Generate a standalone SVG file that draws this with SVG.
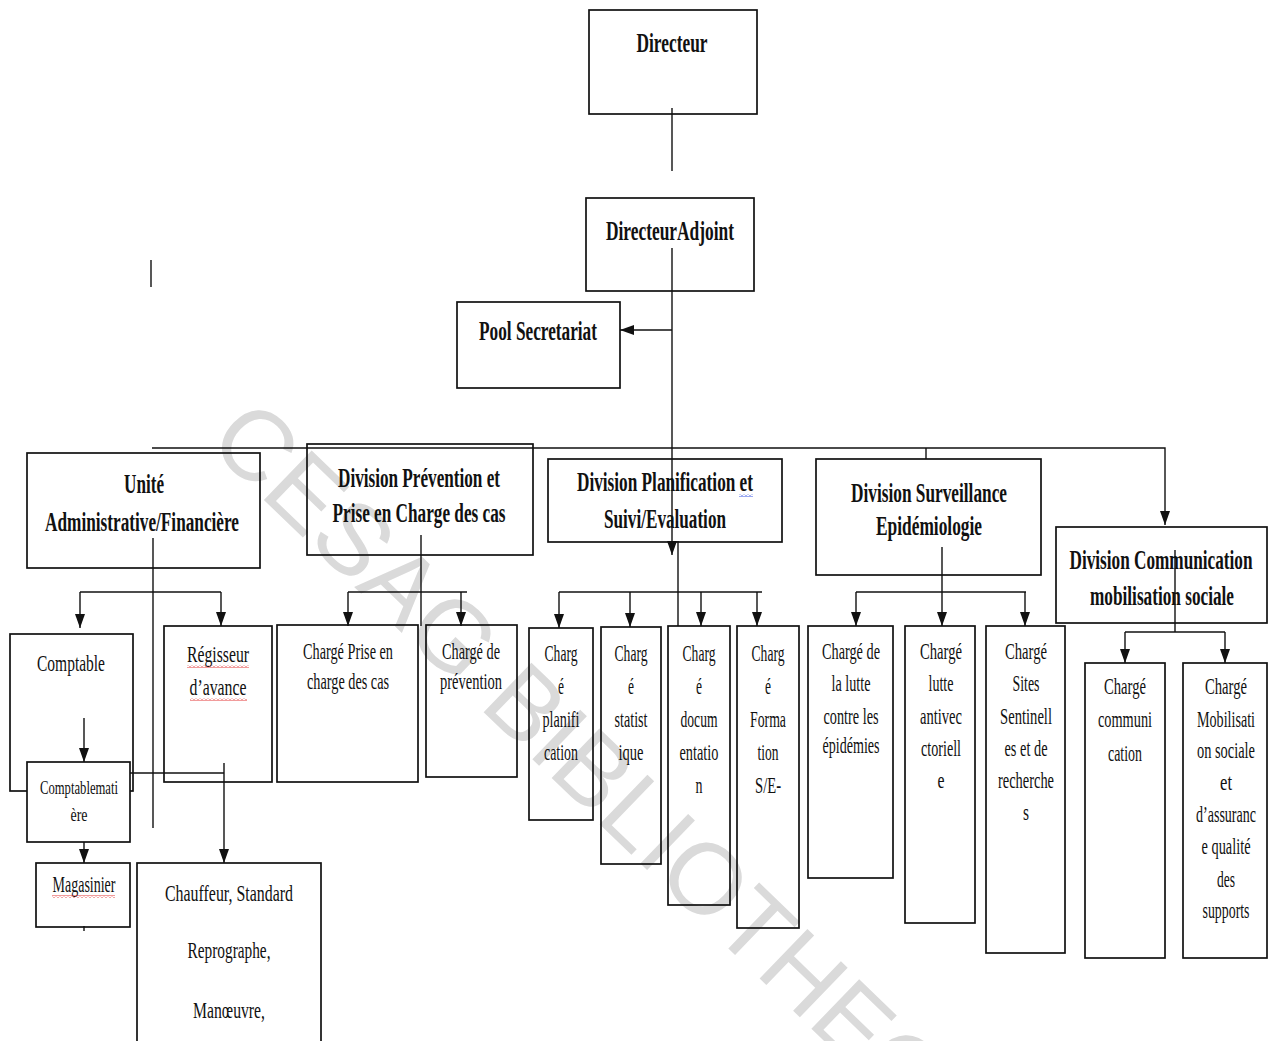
<svg xmlns="http://www.w3.org/2000/svg" width="1271" height="1041" viewBox="0 0 1271 1041">
  <style>
    .box { fill: none; stroke: #111; stroke-width: 1.7; }
    .c { fill: none; stroke: #111; stroke-width: 1.4; }
    .t { font-family: "Liberation Serif", "Times New Roman", serif; font-size: 24px; text-anchor: middle; fill: #111; }
    .b { font-weight: bold; font-size: 27px; }
    .s { font-size: 19px; }
    .wm { font-family: "Liberation Sans", Arial, sans-serif; font-size: 100px; fill: #dadada; }
  </style>
  <defs>
    <marker id="arr" markerWidth="14" markerHeight="10" refX="14" refY="5" orient="auto" markerUnits="userSpaceOnUse">
      <path d="M0,0 L14,5 L0,10 z" fill="#111"/>
    </marker>
    <pattern id="wavyRed" width="4" height="3" patternUnits="userSpaceOnUse">
      <path d="M0,2.5 L2,0.5 L4,2.5" stroke="#e02020" stroke-width="0.9" fill="none"/>
    </pattern>
    <pattern id="wavyBlue" width="4" height="3" patternUnits="userSpaceOnUse">
      <path d="M0,2.5 L2,0.5 L4,2.5" stroke="#2040e0" stroke-width="0.9" fill="none"/>
    </pattern>
  </defs>

  <rect width="1271" height="1041" fill="#fff"/>

  <!-- watermark -->
  <text class="wm" transform="translate(206,444) rotate(44)">CESAG BIBLIOTHEQUE</text>

  <!-- connectors -->
  <g id="connectors">
    <line class="c" x1="672" y1="108" x2="672" y2="171"/>
    <line class="c" x1="151" y1="260" x2="151" y2="287"/>
    <line class="c" x1="672" y1="248" x2="672" y2="555" marker-end="url(#arr)"/>
    <line class="c" x1="672" y1="330" x2="620" y2="330" marker-end="url(#arr)"/>
    <!-- top distribution bar -->
    <polyline class="c" points="152,448 1165,448 1165,525" marker-end="url(#arr)"/>
    <line class="c" x1="926" y1="448" x2="926" y2="459"/>
    <!-- Unite administrative -->
    <line class="c" x1="153" y1="538" x2="153" y2="828"/>
    <polyline class="c" points="80,592 221,592"/>
    <line class="c" x1="80" y1="592" x2="80" y2="628" marker-end="url(#arr)"/>
    <line class="c" x1="221" y1="592" x2="221" y2="626" marker-end="url(#arr)"/>
    <line class="c" x1="84" y1="718" x2="84" y2="762" marker-end="url(#arr)"/>
    <line class="c" x1="84" y1="828" x2="84" y2="863" marker-end="url(#arr)"/>
    <line class="c" x1="84" y1="926" x2="84" y2="931"/>
    <polyline class="c" points="130,773 224,773"/>
    <line class="c" x1="224" y1="763" x2="224" y2="863" marker-end="url(#arr)"/>
    <!-- Prevention -->
    <line class="c" x1="421" y1="535" x2="421" y2="626"/>
    <polyline class="c" points="348,592 467,592"/>
    <line class="c" x1="348" y1="592" x2="348" y2="626" marker-end="url(#arr)"/>
    <line class="c" x1="461" y1="592" x2="461" y2="626" marker-end="url(#arr)"/>
    <!-- Planification -->
    <line class="c" x1="678" y1="541" x2="678" y2="626"/>
    <polyline class="c" points="559,592 762,592"/>
    <line class="c" x1="559" y1="592" x2="559" y2="628" marker-end="url(#arr)"/>
    <line class="c" x1="630" y1="592" x2="630" y2="627" marker-end="url(#arr)"/>
    <line class="c" x1="701" y1="592" x2="701" y2="626" marker-end="url(#arr)"/>
    <line class="c" x1="757" y1="592" x2="757" y2="626" marker-end="url(#arr)"/>
    <!-- Surveillance -->
    <line class="c" x1="942" y1="547" x2="942" y2="626" marker-end="url(#arr)"/>
    <polyline class="c" points="856,592 1026,592"/>
    <line class="c" x1="856" y1="592" x2="856" y2="626" marker-end="url(#arr)"/>
    <line class="c" x1="1025" y1="592" x2="1025" y2="626" marker-end="url(#arr)"/>
    <!-- Communication -->
    <line class="c" x1="1175" y1="550" x2="1175" y2="632"/>
    <polyline class="c" points="1125,632 1225,632"/>
    <line class="c" x1="1125" y1="632" x2="1125" y2="663" marker-end="url(#arr)"/>
    <line class="c" x1="1225" y1="632" x2="1225" y2="663" marker-end="url(#arr)"/>
  </g>

  <!-- top management -->
  <g id="directeur">
    <rect class="box" x="589" y="10" width="168" height="104"/>
    <text class="t b" x="672" y="52" textLength="71" lengthAdjust="spacingAndGlyphs">Directeur</text>
  </g>
  <g id="directeur-adjoint">
    <rect class="box" x="586" y="198" width="168" height="93"/>
    <text class="t b" x="670" y="240" textLength="128" lengthAdjust="spacingAndGlyphs">DirecteurAdjoint</text>
  </g>
  <g id="pool-secretariat">
    <rect class="box" x="457" y="302" width="163" height="86"/>
    <text class="t b" x="538" y="340" textLength="118" lengthAdjust="spacingAndGlyphs">Pool Secretariat</text>
  </g>

  <!-- divisions -->
  <g id="unite-admin">
    <rect class="box" x="27" y="453" width="233" height="115"/>
    <text class="t b" x="144" y="493" textLength="40" lengthAdjust="spacingAndGlyphs">Unité</text>
    <text class="t b" x="142" y="531" textLength="194" lengthAdjust="spacingAndGlyphs">Administrative/Financière</text>
  </g>
  <g id="div-prevention">
    <rect class="box" x="307" y="444" width="226" height="111"/>
    <text class="t b" x="419" y="487" textLength="162" lengthAdjust="spacingAndGlyphs">Division Prévention et</text>
    <text class="t b" x="419" y="522" textLength="173" lengthAdjust="spacingAndGlyphs">Prise en Charge des cas</text>
  </g>
  <g id="div-planification">
    <rect class="box" x="548" y="459" width="234" height="83"/>
    <text class="t b" x="665" y="491" textLength="176" lengthAdjust="spacingAndGlyphs">Division Planification et</text>
    <rect x="739" y="494" width="14" height="3" fill="url(#wavyBlue)"/>
    <text class="t b" x="665" y="528" textLength="122" lengthAdjust="spacingAndGlyphs">Suivi/Evaluation</text>
  </g>
  <g id="div-surveillance">
    <rect class="box" x="816" y="459" width="225" height="116"/>
    <text class="t b" x="929" y="502" textLength="156" lengthAdjust="spacingAndGlyphs">Division Surveillance</text>
    <text class="t b" x="929" y="535" textLength="106" lengthAdjust="spacingAndGlyphs">Epidémiologie</text>
  </g>
  <g id="div-communication">
    <rect class="box" x="1056" y="527" width="211" height="96"/>
    <text class="t b" x="1161" y="569" textLength="183" lengthAdjust="spacingAndGlyphs">Division Communication</text>
    <text class="t b" x="1162" y="605" textLength="144" lengthAdjust="spacingAndGlyphs">mobilisation sociale</text>
  </g>

  <!-- administrative staff -->
  <g id="comptable">
    <rect class="box" x="10" y="634" width="123" height="157"/>
    <text class="t" x="71" y="671" textLength="68" lengthAdjust="spacingAndGlyphs">Comptable</text>
  </g>
  <g id="comptable-matiere">
    <rect class="box" x="27" y="762" width="103" height="80" style="fill:#fff"/>
    <text class="t s" x="79" y="794" textLength="78" lengthAdjust="spacingAndGlyphs">Comptablemati</text>
    <text class="t s" x="79" y="821" textLength="17" lengthAdjust="spacingAndGlyphs">ère</text>
  </g>
  <g id="magasinier">
    <rect class="box" x="36" y="863" width="94" height="64"/>
    <text class="t" x="84" y="892" textLength="63" lengthAdjust="spacingAndGlyphs">Magasinier</text>
    <rect x="52" y="895" width="63" height="3" fill="url(#wavyRed)"/>
  </g>
  <g id="regisseur">
    <rect class="box" x="164" y="626" width="108" height="156"/>
    <text class="t" x="218" y="662" textLength="62" lengthAdjust="spacingAndGlyphs">Régisseur</text>
    <rect x="187" y="665" width="62" height="3" fill="url(#wavyRed)"/>
    <text class="t" x="218" y="695" textLength="57" lengthAdjust="spacingAndGlyphs">d’avance</text>
    <rect x="190" y="698" width="57" height="3" fill="url(#wavyRed)"/>
  </g>
  <g id="personnel-appui">
    <rect class="box" x="137" y="863" width="184" height="190"/>
    <text class="t" x="229" y="901" textLength="128" lengthAdjust="spacingAndGlyphs">Chauffeur, Standard</text>
    <text class="t" x="229" y="958" textLength="83" lengthAdjust="spacingAndGlyphs">Reprographe,</text>
    <text class="t" x="229" y="1018" textLength="72" lengthAdjust="spacingAndGlyphs">Manœuvre,</text>
  </g>

  <!-- prevention staff -->
  <g id="charge-prise-en-charge">
    <rect class="box" x="277" y="625" width="141" height="157"/>
    <text class="t" x="348" y="659" textLength="90" lengthAdjust="spacingAndGlyphs">Chargé Prise en</text>
    <text class="t" x="348" y="689" textLength="82" lengthAdjust="spacingAndGlyphs">charge des cas</text>
  </g>
  <g id="charge-prevention">
    <rect class="box" x="426" y="625" width="91" height="152"/>
    <text class="t" x="471" y="659" textLength="58" lengthAdjust="spacingAndGlyphs">Chargé de</text>
    <text class="t" x="471" y="689" textLength="62" lengthAdjust="spacingAndGlyphs">prévention</text>
  </g>

  <!-- planification staff -->
  <g id="charge-planification">
    <rect class="box" x="529" y="628" width="64" height="192"/>
    <text class="t" x="561" y="661" textLength="33" lengthAdjust="spacingAndGlyphs">Charg</text>
    <text class="t" x="561" y="694" textLength="6" lengthAdjust="spacingAndGlyphs">é</text>
    <text class="t" x="561" y="727" textLength="37" lengthAdjust="spacingAndGlyphs">planifi</text>
    <text class="t" x="561" y="760" textLength="34" lengthAdjust="spacingAndGlyphs">cation</text>
  </g>
  <g id="charge-statistique">
    <rect class="box" x="601" y="627" width="60" height="237"/>
    <text class="t" x="631" y="661" textLength="33" lengthAdjust="spacingAndGlyphs">Charg</text>
    <text class="t" x="631" y="694" textLength="6" lengthAdjust="spacingAndGlyphs">é</text>
    <text class="t" x="631" y="727" textLength="33" lengthAdjust="spacingAndGlyphs">statist</text>
    <text class="t" x="631" y="760" textLength="25" lengthAdjust="spacingAndGlyphs">ique</text>
  </g>
  <g id="charge-documentation">
    <rect class="box" x="668" y="626" width="62" height="279"/>
    <text class="t" x="699" y="661" textLength="33" lengthAdjust="spacingAndGlyphs">Charg</text>
    <text class="t" x="699" y="694" textLength="6" lengthAdjust="spacingAndGlyphs">é</text>
    <text class="t" x="699" y="727" textLength="37" lengthAdjust="spacingAndGlyphs">docum</text>
    <text class="t" x="699" y="760" textLength="39" lengthAdjust="spacingAndGlyphs">entatio</text>
    <text class="t" x="699" y="793" textLength="7" lengthAdjust="spacingAndGlyphs">n</text>
  </g>
  <g id="charge-formation">
    <rect class="box" x="737" y="626" width="62" height="302"/>
    <text class="t" x="768" y="661" textLength="33" lengthAdjust="spacingAndGlyphs">Charg</text>
    <text class="t" x="768" y="694" textLength="6" lengthAdjust="spacingAndGlyphs">é</text>
    <text class="t" x="768" y="727" textLength="36" lengthAdjust="spacingAndGlyphs">Forma</text>
    <text class="t" x="768" y="760" textLength="21" lengthAdjust="spacingAndGlyphs">tion</text>
    <text class="t" x="768" y="793" textLength="26" lengthAdjust="spacingAndGlyphs">S/E-</text>
  </g>

  <!-- surveillance staff -->
  <g id="charge-lutte-epidemies">
    <rect class="box" x="808" y="626" width="85" height="252"/>
    <text class="t" x="851" y="659" textLength="58" lengthAdjust="spacingAndGlyphs">Chargé de</text>
    <text class="t" x="851" y="691" textLength="39" lengthAdjust="spacingAndGlyphs">la lutte</text>
    <text class="t" x="851" y="724" textLength="55" lengthAdjust="spacingAndGlyphs">contre les</text>
    <text class="t" x="851" y="753" textLength="57" lengthAdjust="spacingAndGlyphs">épidémies</text>
  </g>
  <g id="charge-lutte-antivectorielle">
    <rect class="box" x="905" y="626" width="70" height="297"/>
    <text class="t" x="941" y="659" textLength="42" lengthAdjust="spacingAndGlyphs">Chargé</text>
    <text class="t" x="941" y="691" textLength="25" lengthAdjust="spacingAndGlyphs">lutte</text>
    <text class="t" x="941" y="724" textLength="42" lengthAdjust="spacingAndGlyphs">antivec</text>
    <text class="t" x="941" y="756" textLength="40" lengthAdjust="spacingAndGlyphs">ctoriell</text>
    <text class="t" x="941" y="788" textLength="7" lengthAdjust="spacingAndGlyphs">e</text>
  </g>
  <g id="charge-sites-sentinelles">
    <rect class="box" x="986" y="626" width="79" height="327"/>
    <text class="t" x="1026" y="659" textLength="42" lengthAdjust="spacingAndGlyphs">Chargé</text>
    <text class="t" x="1026" y="691" textLength="27" lengthAdjust="spacingAndGlyphs">Sites</text>
    <text class="t" x="1026" y="724" textLength="52" lengthAdjust="spacingAndGlyphs">Sentinell</text>
    <text class="t" x="1026" y="756" textLength="43" lengthAdjust="spacingAndGlyphs">es et de</text>
    <text class="t" x="1026" y="788" textLength="56" lengthAdjust="spacingAndGlyphs">recherche</text>
    <text class="t" x="1026" y="820" textLength="6" lengthAdjust="spacingAndGlyphs">s</text>
  </g>

  <!-- communication staff -->
  <g id="charge-communication">
    <rect class="box" x="1085" y="663" width="80" height="295"/>
    <text class="t" x="1125" y="694" textLength="42" lengthAdjust="spacingAndGlyphs">Chargé</text>
    <text class="t" x="1125" y="727" textLength="54" lengthAdjust="spacingAndGlyphs">communi</text>
    <text class="t" x="1125" y="761" textLength="34" lengthAdjust="spacingAndGlyphs">cation</text>
  </g>
  <g id="charge-mobilisation">
    <rect class="box" x="1183" y="663" width="84" height="295"/>
    <text class="t" x="1226" y="694" textLength="42" lengthAdjust="spacingAndGlyphs">Chargé</text>
    <text class="t" x="1226" y="727" textLength="58" lengthAdjust="spacingAndGlyphs">Mobilisati</text>
    <text class="t" x="1226" y="758" textLength="58" lengthAdjust="spacingAndGlyphs">on sociale</text>
    <text class="t" x="1226" y="790" textLength="12" lengthAdjust="spacingAndGlyphs">et</text>
    <text class="t" x="1226" y="822" textLength="60" lengthAdjust="spacingAndGlyphs">d’assuranc</text>
    <text class="t" x="1226" y="854" textLength="49" lengthAdjust="spacingAndGlyphs">e qualité</text>
    <text class="t" x="1226" y="887" textLength="18" lengthAdjust="spacingAndGlyphs">des</text>
    <text class="t" x="1226" y="918" textLength="47" lengthAdjust="spacingAndGlyphs">supports</text>
  </g>
</svg>
